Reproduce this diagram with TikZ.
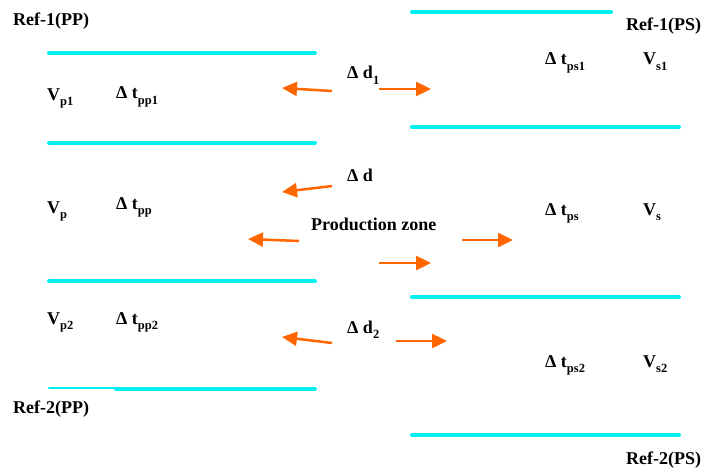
\documentclass[tikz,border=0pt]{standalone}
\usepackage{fontspec}
\setmainfont{Liberation Serif}
\usetikzlibrary{arrows.meta}
\definecolor{refcyan}{HTML}{00F0F0}
\definecolor{arrorange}{HTML}{FF6600}
\newcommand\sbx[1]{\raisebox{-0.28em}{\fontsize{12.5}{13}\selectfont #1}}
\tikzset{
  reflinebox/.style={draw=refcyan, line width=4pt, line cap=round},
  thinreflinebox/.style={draw=refcyan, line width=2.2pt, line cap=round},
  oarrow/.style={draw=arrorange, line width=2.5pt, -{Triangle[length=15pt,width=14pt]}},
  lbl/.style={anchor=base west, inner sep=0pt, font=\fontsize{18}{20}\selectfont\bfseries}
}
\begin{document}
\begin{tikzpicture}[x=1pt,y=-1pt]
\useasboundingbox (0,0) rectangle (703,468);
% reference lines (left, PP)
\draw[reflinebox] (49,53) -- (315,53);
\draw[reflinebox] (49,143) -- (315,143);
\draw[reflinebox] (49,281) -- (315,281);
\draw[thinreflinebox] (49,388) -- (116,388);
\draw[reflinebox] (116,389) -- (315,389);
% reference lines (right, PS)
\draw[reflinebox] (412,12) -- (611,12);
\draw[reflinebox] (412,127) -- (679,127);
\draw[reflinebox] (412,297) -- (679,297);
\draw[reflinebox] (412,435) -- (679,435);
% labels
\node[lbl] (r1pp) at (13,26) {Ref-1(PP)};
\node[lbl] (r1ps) at (626,31) {Ref-1(PS)};
\node[lbl] (r2pp) at (13,413) {Ref-2(PP)};
\node[lbl] (r2ps) at (626,464) {Ref-2(PS)};
\node[lbl] (vp1) at (47,100) {V\sbx{p1}};
\node[lbl] (tpp1) at (116,99) {Δ t\sbx{pp1}};
\node[lbl] (vp) at (47,213) {V\sbx{p}};
\node[lbl] (tpp) at (116,209) {Δ t\sbx{pp}};
\node[lbl] (vp2) at (47,324) {V\sbx{p2}};
\node[lbl] (tpp2) at (116,324) {Δ t\sbx{pp2}};
\node[lbl] (tps1) at (545,65) {Δ t\sbx{ps1}};
\node[lbl] (vs1) at (643,65) {V\sbx{s1}};
\node[lbl] (tps) at (545,215) {Δ t\sbx{ps}};
\node[lbl] (vs) at (643,215) {V\sbx{s}};
\node[lbl] (tps2) at (545,367) {Δ t\sbx{ps2}};
\node[lbl] (vs2) at (643,367) {V\sbx{s2}};
\node[lbl] (dd1) at (347,79) {Δ d\sbx{1}};
\node[lbl] (dd) at (347,181) {Δ d};
\node[lbl] (dd2) at (347,333) {Δ d\sbx{2}};
\node[lbl] (pz) at (311,230) {Production zone};
% arrows
\coordinate (a1s) at (332,91); \coordinate (a1e) at (282,88);
\coordinate (b1s) at (379,89); \coordinate (b1e) at (431,89);
\coordinate (a2s) at (332,186); \coordinate (a2e) at (282,192);
\coordinate (a3s) at (299,241); \coordinate (a3e) at (248,239);
\coordinate (b3s) at (462,240); \coordinate (b3e) at (513,240);
\coordinate (b2s) at (379,263); \coordinate (b2e) at (431,263);
\coordinate (a4s) at (332,343); \coordinate (a4e) at (282,337);
\coordinate (b4s) at (396,341); \coordinate (b4e) at (447,341);
\draw[oarrow] (a1s) -- (a1e);
\draw[oarrow] (b1s) -- (b1e);
\draw[oarrow] (a2s) -- (a2e);
\draw[oarrow] (a3s) -- (a3e);
\draw[oarrow] (b3s) -- (b3e);
\draw[oarrow] (b2s) -- (b2e);
\draw[oarrow] (a4s) -- (a4e);
\draw[oarrow] (b4s) -- (b4e);
\end{tikzpicture}
\end{document}
